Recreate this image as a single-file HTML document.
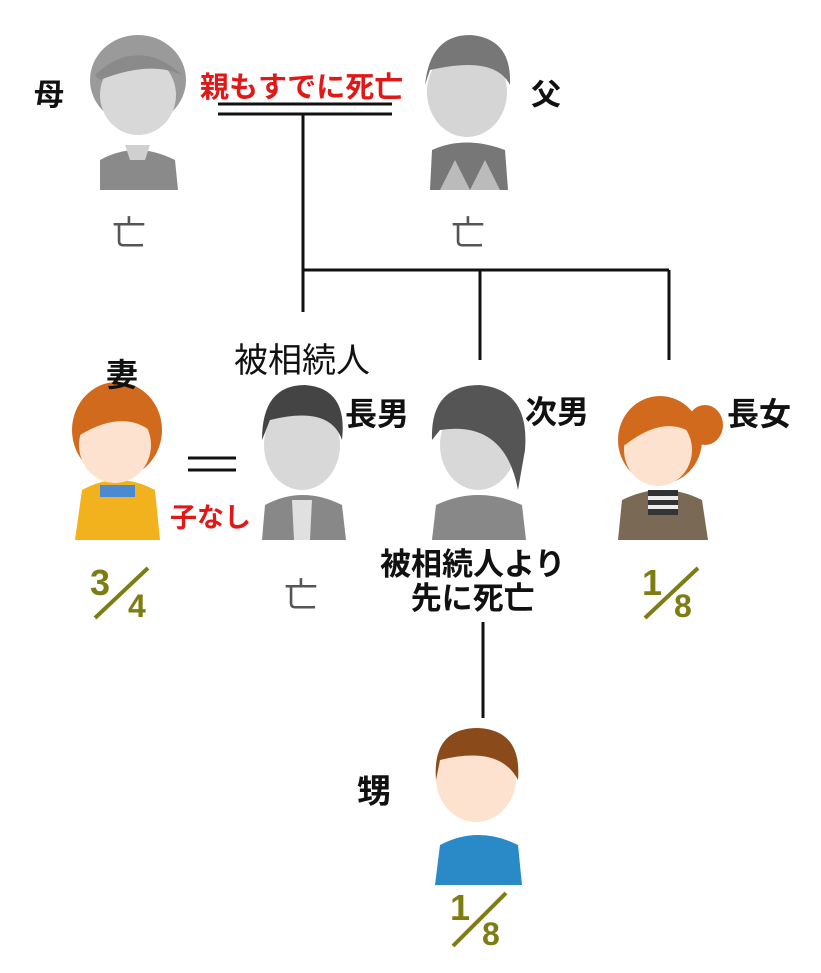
<!DOCTYPE html>
<html><head><meta charset="utf-8"><style>
html,body{margin:0;padding:0;background:#fff;}
body{width:821px;height:973px;position:relative;overflow:hidden;font-family:"Liberation Sans","Noto Sans CJK JP",sans-serif;}
.t{position:absolute;white-space:nowrap;font-weight:bold;color:#111;}
svg{position:absolute;left:0;top:0;}
</style></head><body>
<svg width="821" height="973" viewBox="0 0 821 973">
<g stroke="#111" stroke-width="3" fill="none">
<line x1="218" y1="104" x2="392" y2="104"/>
<line x1="218" y1="114" x2="392" y2="114"/>
<line x1="303" y1="114" x2="303" y2="312"/>
<line x1="303" y1="270" x2="669" y2="270"/>
<line x1="480" y1="270" x2="480" y2="360"/>
<line x1="669" y1="270" x2="669" y2="360"/>
<line x1="188" y1="458" x2="236" y2="458"/>
<line x1="188" y1="470" x2="236" y2="470"/>
<line x1="483" y1="622" x2="483" y2="718"/>
</g>
<g>
<path d="M100 190 L100 160 Q135 140 175 160 L178 190Z" fill="#8a8a8a"/>
<ellipse cx="138" cy="80" rx="48" ry="45" fill="#9a9a9a"/>
<ellipse cx="138" cy="95" rx="38" ry="40" fill="#d8d8d8"/>
<path d="M95 75 Q138 35 182 75 Q150 60 100 80Z" fill="#8a8a8a"/>
<path d="M125 145 L150 145 L145 160 L130 160Z" fill="#d0d0d0"/>
</g>
<g>
<path d="M430 190 L432 150 Q465 135 505 150 L508 190Z" fill="#777"/>
<path d="M440 190 L455 160 L470 190 L485 160 L500 190Z" fill="#bbb"/>
<ellipse cx="467" cy="92" rx="40" ry="45" fill="#d5d5d5"/>
<path d="M425 85 Q430 35 470 35 Q512 38 510 85 Q495 55 430 70Z" fill="#777"/>
</g>
<g>
<path d="M75 540 L82 490 Q118 470 155 490 L160 540Z" fill="#f2b21e"/>
<rect x="100" y="485" width="35" height="12" fill="#4b8ad0"/>
<ellipse cx="117" cy="430" rx="45" ry="48" fill="#d26a1e"/>
<ellipse cx="115" cy="445" rx="36" ry="38" fill="#fde3cf"/>
<path d="M78 430 Q90 385 135 390 Q165 400 160 440 Q130 405 80 435Z" fill="#d26a1e"/>
</g>
<g>
<path d="M262 540 L265 505 Q302 485 342 505 L346 540Z" fill="#888"/>
<path d="M292 500 L312 500 L310 540 L294 540Z" fill="#e0e0e0"/>
<ellipse cx="302" cy="445" rx="38" ry="45" fill="#d8d8d8"/>
<path d="M262 440 Q262 385 305 385 Q348 388 342 440 Q330 405 270 420Z" fill="#444"/>
</g>
<g>
<path d="M432 540 L436 505 Q478 485 522 505 L526 540Z" fill="#888"/>
<ellipse cx="478" cy="445" rx="38" ry="45" fill="#d8d8d8"/>
<path d="M432 440 Q430 385 480 385 Q530 390 525 450 L518 490 Q505 420 440 430Z" fill="#555"/>
</g>
<g>
<path d="M618 540 L622 500 Q662 480 702 500 L708 540Z" fill="#7a6a55"/>
<rect x="648" y="490" width="30" height="25" fill="#333"/>
<rect x="648" y="496" width="30" height="4" fill="#eee"/>
<rect x="648" y="505" width="30" height="4" fill="#eee"/>
<ellipse cx="705" cy="425" rx="18" ry="20" fill="#d26a1e"/>
<ellipse cx="660" cy="440" rx="42" ry="44" fill="#d26a1e"/>
<ellipse cx="658" cy="450" rx="34" ry="36" fill="#fde3cf"/>
<path d="M620 440 Q625 400 665 400 Q700 405 700 440 Q670 410 625 445Z" fill="#d26a1e"/>
</g>
<g>
<path d="M435 885 L440 845 Q478 825 518 845 L522 885Z" fill="#2a8ac8"/>
<ellipse cx="476" cy="778" rx="40" ry="44" fill="#fde3cf"/>
<path d="M436 780 Q432 728 478 728 Q522 730 518 780 Q500 745 440 760Z" fill="#8a4a1a"/>
</g>
<g fill="#7d7d14" font-family="Liberation Sans,sans-serif" font-weight="bold">
<text x="90" y="595" font-size="36">3</text>
<line x1="95" y1="618" x2="148" y2="568" stroke="#7d7d14" stroke-width="4"/>
<text x="128" y="617" font-size="32">4</text>
<text x="642" y="595" font-size="36">1</text>
<line x1="645" y1="618" x2="698" y2="568" stroke="#7d7d14" stroke-width="4"/>
<text x="674" y="617" font-size="32">8</text>
<text x="450" y="920" font-size="36">1</text>
<line x1="453" y1="946" x2="506" y2="893" stroke="#7d7d14" stroke-width="4"/>
<text x="482" y="945" font-size="32">8</text>
</g>
</svg>
<div class="t" style="left:34px;top:70px;font-size:30px;">母</div>
<div class="t" style="left:200px;top:64px;font-size:29px;color:#e01818;">親もすでに死亡</div>
<div class="t" style="left:531px;top:70px;font-size:30px;">父</div>
<div class="t" style="left:112px;top:206px;font-size:34px;color:#555;font-weight:normal;">亡</div>
<div class="t" style="left:451px;top:206px;font-size:34px;color:#555;font-weight:normal;">亡</div>
<div class="t" style="left:234px;top:333px;font-size:34px;font-weight:normal;">被相続人</div>
<div class="t" style="left:106px;top:350px;font-size:32px;">妻</div>
<div class="t" style="left:345px;top:389px;font-size:32px;">長男</div>
<div class="t" style="left:525px;top:387px;font-size:32px;">次男</div>
<div class="t" style="left:727px;top:389px;font-size:32px;">長女</div>
<div class="t" style="left:170px;top:496px;font-size:27px;color:#e01818;">子なし</div>
<div class="t" style="left:284px;top:568px;font-size:34px;color:#555;font-weight:normal;">亡</div>
<div class="t" style="left:380px;top:548px;font-size:31px;text-align:center;line-height:34px;">被相続人より<br>先に死亡</div>
<div class="t" style="left:357px;top:764px;font-size:34px;">甥</div>
</body></html>
